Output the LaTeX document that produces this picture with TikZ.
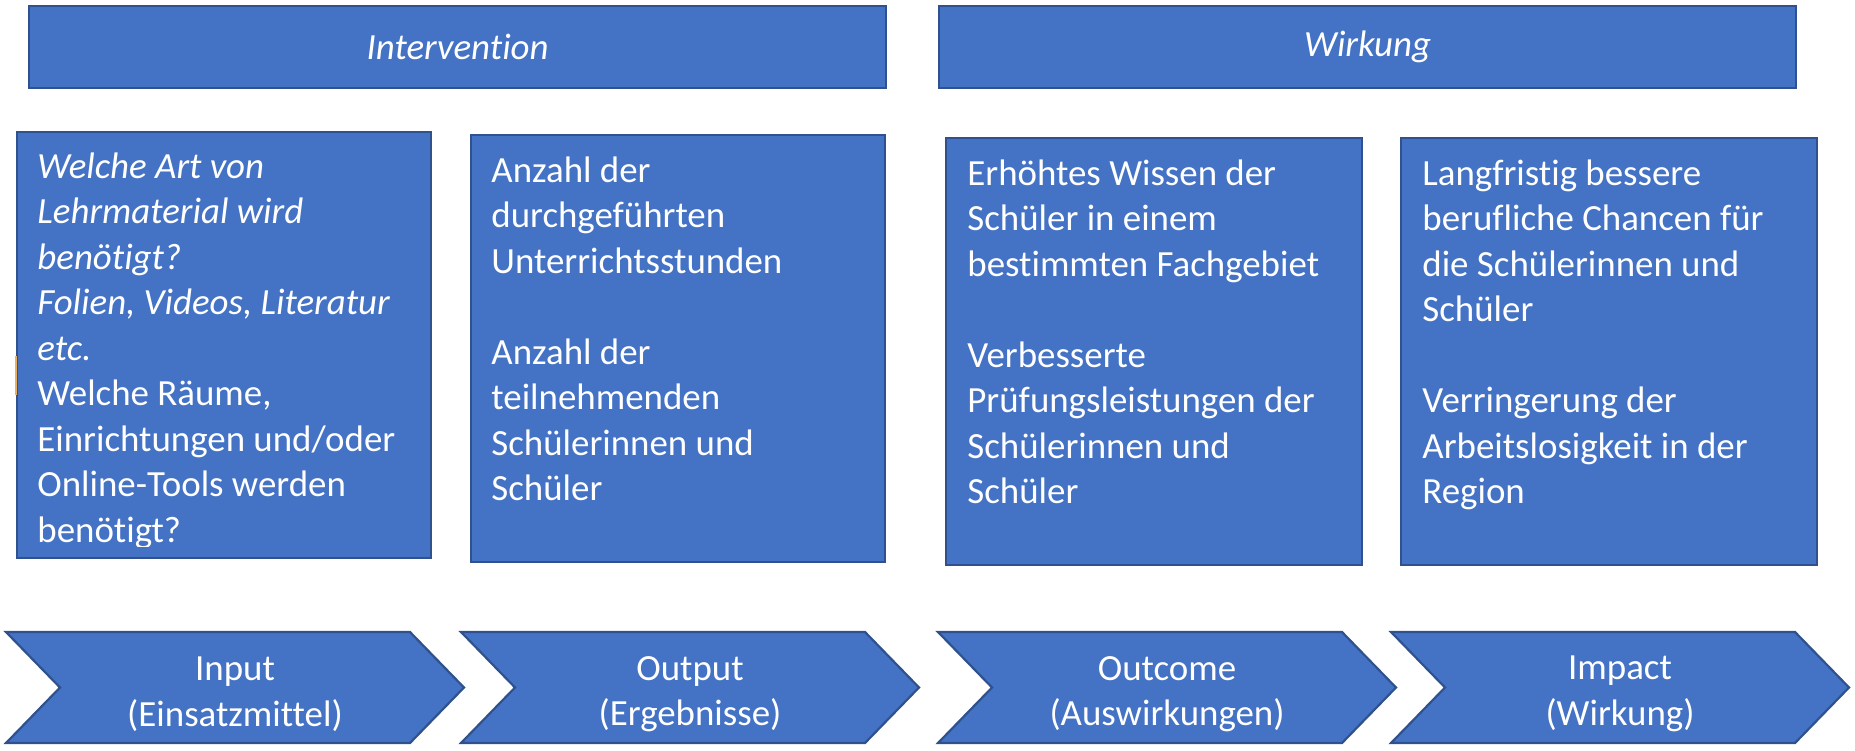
\documentclass[tikz,border=0pt]{standalone}
\usepackage{fontspec}
\setmainfont{Carlito}[Ligatures=NoCommon]
\definecolor{fillblue}{HTML}{4472C4}
\definecolor{lineblue}{HTML}{2F528F}
\definecolor{marktick}{HTML}{E8B060}
\begin{document}
\begin{tikzpicture}[x=0.5pt,y=-0.5pt,
  panel/.style={draw=lineblue, fill=fillblue, line width=1.1pt},
  txt/.style={text=white, inner sep=0pt, font=\fontsize{18.45}{22.75}\selectfont},
  boxtxt/.style={txt, anchor=base west, align=left},
]
\useasboundingbox (0,0) rectangle (1855,750);
% banners
\node[panel, anchor=north west, minimum width=428.5pt, minimum height=41pt] (ban1) at (28,5) {};
\node[txt, font=\fontsize{18.45}{22.75}\selectfont\itshape] (ban1t) at (ban1.center) {Intervention};
\node[panel, anchor=north west, minimum width=428.5pt, minimum height=41pt] (ban2) at (938,5) {};
\node[txt, font=\fontsize{18.45}{22.75}\selectfont\itshape] (ban2t) at (ban2.center) {Wirkung};
% boxes
\node[panel, anchor=north west, minimum width=207pt, minimum height=213pt] (box1) at (16,131) {};
\node[panel, anchor=north west, minimum width=207pt, minimum height=213.5pt] (box2) at (470,134) {};
\node[panel, anchor=north west, minimum width=208pt, minimum height=213.5pt] (box3) at (945,137) {};
\node[panel, anchor=north west, minimum width=208pt, minimum height=213.5pt] (box4) at (1400,137) {};
\begin{scope}
\clip (16,131) rectangle (430,546);
\node[boxtxt] (t1) at (37,178) {\parbox[t]{200pt}{\raggedright\itshape Welche Art von\\Lehrmaterial wird\\benötigt?\\Folien, Videos, Literatur\\etc.\\\upshape Welche Räume,\\Einrichtungen und/oder\\Online-Tools werden\\benötigt?}};
\end{scope}
\node[boxtxt] (t2) at (491,182) {\parbox[t]{200pt}{\raggedright Anzahl der\\durchgeführten\\Unterrichtsstunden\\[22.75pt]Anzahl der\\teilnehmenden\\Schülerinnen und\\Schüler}};
\node[boxtxt] (t3) at (967,185) {\parbox[t]{200pt}{\raggedright Erhöhtes Wissen der\\Schüler in einem\\bestimmten Fachgebiet\\[22.75pt]Verbesserte\\Prüfungsleistungen der\\Schülerinnen und\\Schüler}};
\node[boxtxt] (t4) at (1422,185) {\parbox[t]{200pt}{\raggedright Langfristig bessere\\berufliche Chancen für\\die Schülerinnen und\\Schüler\\[22.75pt]Verringerung der\\Arbeitslosigkeit in der\\Region}};
\draw[marktick, line width=0.6pt] (16,356) -- (16,395);
% chevrons
\foreach \x/\n/\t in {6/ch1/{Input\\(Einsatzmittel)}, 461/ch2/{Output\\(Ergebnisse)}, 938/ch3/{Outcome\\(Auswirkungen)}, 1391/ch4/{Impact\\(Wirkung)}}{
  \draw[panel] (\x,632) -- ++(404,0) -- ++(54,55.5) -- ++(-54,55.5) -- ++(-404,0) -- ++(54,-55.5) -- cycle;
  \node[txt, align=center] (\n) at (\x+229,694) {\t};
}
\end{tikzpicture}
\end{document}
